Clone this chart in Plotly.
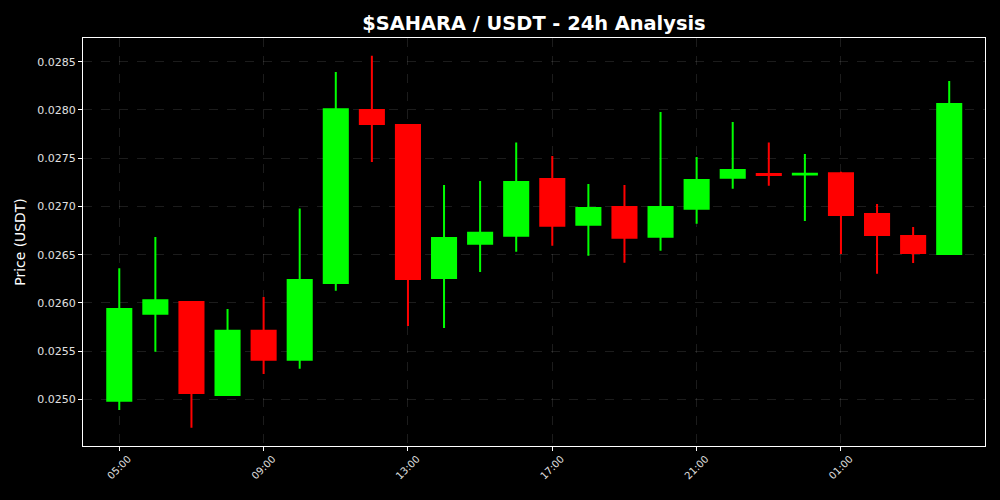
import plotly.graph_objects as go
import pandas as pd

# ---- data ----
times = pd.date_range("2025-01-01 05:00", periods=24, freq="h")
opens = [0.024986, 0.025888, 0.026009, 0.025045, 0.025712, 0.025411, 0.026206, 0.027999,
         0.027844, 0.026258, 0.026614, 0.026697, 0.027284, 0.026811, 0.026994, 0.026686,
         0.026976, 0.027298, 0.027336, 0.027330, 0.027343, 0.026921, 0.026693, 0.026507]
highs = [0.026359, 0.026683, 0.026017, 0.025937, 0.026061, 0.026980, 0.028393, 0.028562,
         0.027850, 0.027222, 0.027263, 0.027664, 0.027523, 0.027232, 0.027222, 0.027979,
         0.027512, 0.027875, 0.027664, 0.027543, 0.027360, 0.027025, 0.026787, 0.028300]
lows = [0.024890, 0.025494, 0.024706, 0.025035, 0.025263, 0.025318, 0.026126, 0.027460,
        0.025760, 0.025740, 0.026320, 0.026531, 0.026593, 0.026489, 0.026417, 0.026541,
        0.026821, 0.027184, 0.027215, 0.026849, 0.026507, 0.026303, 0.026413, 0.026500]
closes = [0.025937, 0.026027, 0.025066, 0.025712, 0.025411, 0.026237, 0.028007, 0.027854,
          0.026248, 0.026673, 0.026728, 0.027253, 0.026800, 0.026984, 0.026676, 0.026994,
          0.027274, 0.027377, 0.027326, 0.027338, 0.026911, 0.026704, 0.026517, 0.028062]

title_text = "$SAHARA / USDT - 24h Analysis"
y_title = "Price (USDT)"

fig = go.Figure(go.Candlestick(
    x=times, open=opens, high=highs, low=lows, close=closes,
    increasing=dict(line=dict(color="#00ff00", width=2), fillcolor="#00ff00"),
    decreasing=dict(line=dict(color="#ff0000", width=2), fillcolor="#ff0000"),
    showlegend=False,
))

grid = "rgba(255,255,255,0.11)"
fig.update_layout(
    width=1000, height=500, autosize=False,
    paper_bgcolor="#000000", plot_bgcolor="#000000",
    margin=dict(l=83, r=15, t=38, b=54),
    boxgap=0.333, boxgroupgap=0,
    font=dict(family="DejaVu Sans", color="white", size=11),
    title=dict(text="<b>" + title_text + "</b>", x=0.534, xanchor="center",
               y=1 - 23 / 500, yanchor="middle", yref="container",
               font=dict(size=19.4, color="white", family="DejaVu Sans")),
    xaxis=dict(
        range=[pd.Timestamp("2025-01-01 03:59:40"), pd.Timestamp("2025-01-02 04:59:30")],
        rangeslider=dict(visible=False),
        tick0="2025-01-01 05:00", dtick=4 * 3600 * 1000, tickformat="%H:%M",
        tickangle=-45, tickfont=dict(size=10, color="#e0e0e0"),
        ticklabelshift=9, ticklabelstandoff=-2,
        showline=True, mirror=True, linecolor="white", linewidth=1.2,
        ticks="outside", ticklen=4, tickcolor="white",
        showgrid=True, gridcolor=grid, griddash="dash", gridwidth=0.8, zeroline=False,
    ),
    yaxis=dict(
        range=[0.024517, 0.028746],
        dtick=0.0005, tick0=0.025, tickformat=".4f",
        tickfont=dict(size=11, color="#e0e0e0"),
        title=dict(text=y_title, font=dict(size=13.9, color="white"), standoff=8),
        showline=True, mirror=True, linecolor="white", linewidth=1.2,
        ticks="outside", ticklen=4, tickcolor="white",
        showgrid=True, gridcolor=grid, griddash="dash", gridwidth=0.8, zeroline=False,
    ),
)

fig.write_html("out.html", config={"displayModeBar": False},
               post_script="document.body.style.margin='0';document.body.style.background='#000';")
